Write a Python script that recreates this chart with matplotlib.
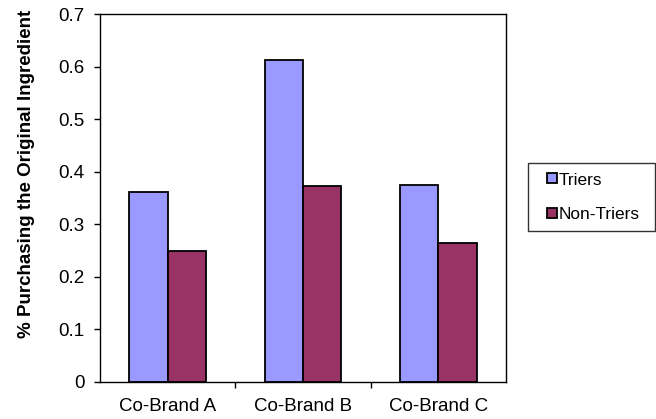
import numpy as np
import matplotlib.pyplot as plt
from matplotlib.lines import Line2D

plt.rcParams['font.family'] = ['Liberation Sans', 'DejaVu Sans']

categories = ["Co-Brand A", "Co-Brand B", "Co-Brand C"]
triers = [0.362, 0.612, 0.374]
non_triers = [0.249, 0.372, 0.264]
series_names = ["Triers", "Non-Triers"]
colors = ["#9999FF", "#993366"]

fig = plt.figure(figsize=(6.56, 4.19), dpi=100)
ax = fig.add_axes([0.1524, 0.089, 0.6189, 0.8771])

x = np.arange(len(categories))
w = 0.284
ax.bar(x - w / 2, triers, w, color=colors[0], edgecolor="black", linewidth=1.3)
ax.bar(x + w / 2, non_triers, w, color=colors[1], edgecolor="black", linewidth=1.3)

ax.set_xlim(-0.5, 2.5)
ax.set_ylim(0, 0.7)
ax.set_yticks(np.arange(0, 0.71, 0.1))
ax.set_yticklabels(["0", "0.1", "0.2", "0.3", "0.4", "0.5", "0.6", "0.7"])
ax.tick_params(axis="y", direction="out", length=4, width=1, labelsize=13.5, pad=7)

# category boundaries as ticks, names in between
ax.set_xticks([0.5, 1.5])
ax.set_xticklabels([])
ax.tick_params(axis="x", which="major", direction="out", length=4, width=1)
ax.set_xticks(x, minor=True)
ax.set_xticklabels(categories, minor=True)
ax.tick_params(axis="x", which="minor", length=0, labelsize=13.5, pad=12)

for s in ax.spines.values():
    s.set_color("black")
    s.set_linewidth(1)

ax.set_ylabel("% Purchasing the Original Ingredient", fontsize=13.5, fontweight="bold")
ax.yaxis.set_label_coords(-0.16, 0.565)

handles = [Line2D([], [], linestyle="none", marker="s", markersize=7,
                  markerfacecolor=c, markeredgecolor="black", markeredgewidth=1.3)
           for c in colors]
leg = fig.legend(handles, series_names, loc="upper left",
                 bbox_to_anchor=(0.805, 0.444, 0.193, 0.167),
                 mode="expand", borderaxespad=0, fontsize=12.4, frameon=True, fancybox=False,
                 handlelength=1.69, handletextpad=-0.44, labelspacing=1.12,
                 borderpad=0.55)
leg.get_frame().set_edgecolor("black")
leg.get_frame().set_linewidth(1)

fig.savefig("out.png", dpi=100)
